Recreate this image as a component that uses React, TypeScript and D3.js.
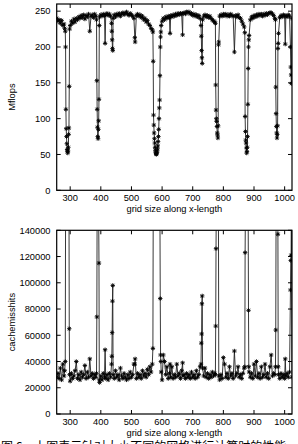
import * as d3 from "d3";

// grid sizes (x-length) and the two measured series, row by row
const gridSize = [
  256, 260, 264, 268, 272, 276, 280, 282,
  284, 285, 286, 287, 288, 289, 290, 291, 292, 293, 294, 295, 296, 297, 298,
  300, 304, 308, 312, 316, 320, 324, 328, 332, 336, 340, 344, 348, 352, 356, 360,
  364, 368, 372, 376, 380, 384, 386,
  387, 388, 389, 390, 391, 392, 393, 394, 395,
  396, 400, 404, 408, 412, 414, 416, 420, 424, 428, 432,
  435, 436, 437, 438, 439, 440,
  444, 448, 452, 456, 460, 464, 468, 472, 476, 480, 484, 488, 492, 496, 500, 504, 508,
  511, 512, 516, 520, 524, 528, 532, 536, 540, 544, 548, 552, 556, 560, 564, 568,
  570, 571, 572, 573, 574, 575, 576, 577, 578, 579, 580, 581, 582, 583, 584, 585, 586, 587, 588, 589, 590, 591, 592, 593, 594, 595, 596, 597,
  600, 604, 608, 612, 616, 620, 624, 626, 628, 632, 636, 640, 644, 648, 652, 656, 660, 664, 667,
  668, 672, 676, 680, 684, 688, 692, 696, 700, 704, 708, 712, 716, 720, 724,
  727, 728, 729, 730, 731, 732,
  736, 740, 744, 748, 752, 756, 760, 764, 768, 772, 774,
  775, 776, 777, 778, 779, 780, 781, 782, 783, 784, 785,
  788, 792, 796, 800, 804, 808, 812, 816, 820, 824, 828, 832, 836, 840, 844, 848, 852, 856, 860, 864, 868,
  870, 871, 872, 873, 874, 875, 876, 877, 878, 879, 880, 881, 882, 883, 884,
  888, 892, 896, 900, 904, 908, 912, 916, 920, 924, 928, 932, 936, 940, 944, 948, 952, 956, 960, 964, 968, 970,
  971, 972, 973, 974, 975, 976, 977, 978, 979, 980,
  984, 988, 992, 996, 1000, 1002, 1004, 1008, 1012, 1016,
  1019, 1020, 1021, 1022, 1024,
];

const mflops = [
  240, 236, 238, 233, 237, 230, 232, 226,
  222, 200, 113, 86, 75, 65, 57, 54, 52, 55, 60, 78, 87, 145, 225,
  230, 236, 233, 239, 235, 240, 238, 242, 240, 244, 241, 245, 239, 244, 242, 246,
  222, 243, 245, 241, 246, 243, 238,
  153, 113, 88, 75, 72, 85, 97, 127, 230,
  242, 245, 243, 246, 244, 205, 245, 247, 244, 246, 243,
  233, 222, 210, 198, 195, 240,
  245, 242, 246, 244, 247, 243, 246, 248, 245, 247, 249, 246, 244, 247, 245, 243, 240,
  213, 207, 244, 246, 243, 245, 241, 243, 238, 240, 235, 237, 232, 230, 226, 224,
  221, 180, 105, 91, 80, 72, 66, 60, 56, 53, 51, 50, 51, 53, 55, 58, 62, 68, 75, 85, 100, 115, 126, 160, 200, 214, 221, 230,
  236, 240, 238, 242, 240, 243, 241, 219, 244, 242, 245, 243, 246, 244, 247, 245, 247, 246, 217,
  247, 248, 246, 249, 248, 249, 246, 247, 244, 246, 243, 245, 242, 244, 240,
  230, 215, 195, 185, 177, 238,
  243, 245, 242, 244, 241, 243, 240, 238, 236, 235, 233,
  147, 112, 100, 96, 89, 80, 77, 73, 90, 203, 207,
  243, 245, 243, 246, 244, 246, 243, 245, 243, 246, 244, 243, 193, 244, 242, 245, 241, 240, 236, 232, 228,
  220, 103, 82, 70, 66, 59, 52, 54, 60, 75, 120, 170, 200, 210, 216,
  238, 242, 240, 244, 242, 245, 243, 246, 244, 246, 243, 246, 244, 247, 245, 247, 248, 248, 246, 244, 240, 238,
  144, 107, 89, 80, 73, 78, 90, 198, 205, 219,
  241, 244, 242, 245, 243, 204, 244, 242, 245, 243,
  200, 172, 161, 149, 240,
];

const cacheMisses = [
  28000, 31000, 27000, 35000, 26000, 38000, 29000, 33000,
  40000, 160000, 170000, 180000, 190000, 200000, 210000, 215000, 215000, 210000, 200000, 185000, 170000, 65000, 30000,
  25000, 31000, 27000, 29000, 33000, 40000, 27000, 30000, 26000, 32000, 28000, 30000, 37000, 27000, 32000, 28000,
  42000, 29000, 31000, 27000, 30000, 28000, 31000,
  74000, 160000, 180000, 180000, 180000, 160000, 150000, 115000, 26000,
  24000, 29000, 26000, 31000, 28000, 49000, 27000, 30000, 26000, 31000, 28000,
  38000, 44000, 62000, 86000, 98000, 30000,
  27000, 33000, 28000, 30000, 26000, 35000, 29000, 27000, 31000, 28000, 26000, 30000, 27000, 32000, 28000, 30000, 38000,
  38000, 42000, 27000, 31000, 28000, 30000, 27000, 33000, 29000, 31000, 28000, 34000, 30000, 36000, 32000, 38000,
  50000, 150000, 170000, 180000, 190000, 200000, 205000, 210000, 215000, 215000, 220000, 220000, 220000, 215000, 215000, 210000, 205000, 200000, 195000, 185000, 175000, 165000, 160000, 150000, 88000, 45000, 40000, 32000,
  26000, 45000, 40000, 30000, 36000, 27000, 31000, 38000, 28000, 36000, 27000, 30000, 28000, 38000, 29000, 31000, 27000, 33000, 39000,
  29000, 30000, 27000, 31000, 28000, 30000, 27000, 32000, 28000, 30000, 27000, 33000, 28000, 30000, 36000,
  38000, 54000, 61000, 84000, 90000, 35000,
  29000, 35000, 28000, 31000, 27000, 30000, 28000, 32000, 29000, 31000, 30000,
  67000, 126000, 160000, 170000, 180000, 185000, 190000, 190000, 180000, 145000, 29000,
  26000, 30000, 27000, 43000, 38000, 28000, 31000, 27000, 36000, 29000, 31000, 27000, 48000, 29000, 31000, 36000, 28000, 30000, 27000, 31000, 35000,
  36000, 123000, 160000, 180000, 190000, 200000, 205000, 210000, 205000, 195000, 170000, 150000, 79000, 36000, 32000,
  28000, 31000, 27000, 38000, 29000, 40000, 28000, 31000, 27000, 36000, 28000, 30000, 38000, 28000, 31000, 27000, 36000, 45000, 29000, 31000, 30000, 36000,
  64000, 150000, 170000, 180000, 190000, 185000, 170000, 137000, 36000, 30000,
  27000, 31000, 28000, 30000, 27000, 42000, 29000, 31000, 28000, 32000,
  94500, 117000, 121000, 150000, 28000,
];

const xTicks = [300, 400, 500, 600, 700, 800, 900, 1000];
const mflopsTicks = [0, 50, 100, 150, 200, 250];
const missTicks = [0, 20000, 40000, 60000, 80000, 100000, 120000, 140000];

const xLabel = "grid size along x-length";
const caption = "图 6　上图表示针对大小不同的网格进行计算时的性能，下图表示缓存未命中次数";

const WIDTH = 298;
const HEIGHT = 444;
const LEFT = 56.7;
const RIGHT = 292;
const FONT = "'Liberation Sans', Arial, Helvetica, sans-serif";
const FONT_SIZE = 9.3;
const TICK = 4;
const STAR = "M-2.2,0H2.2M0,-2.2V2.2M-1.6,-1.6L1.6,1.6M-1.6,1.6L1.6,-1.6";

type PanelProps = {
  id: string;
  top: number;
  bottom: number;
  values: number[];
  yMax: number;
  yTicks: number[];
  yLabel: string;
};

function Panel({ id, top, bottom, values, yMax, yTicks, yLabel }: PanelProps) {
  const x = d3.scaleLinear().domain([256, 1024]).range([LEFT, RIGHT]);
  const y = d3.scaleLinear().domain([0, yMax]).range([bottom, top]);
  const line = d3
    .line<number>()
    .x((_, i) => x(gridSize[i]))
    .y((d) => y(d));

  return (
    <g>
      <defs>
        <clipPath id={`clip-${id}`}>
          <rect x={LEFT} y={top} width={RIGHT - LEFT} height={bottom - top} />
        </clipPath>
      </defs>

      <g clipPath={`url(#clip-${id})`}>
        <path d={line(values) ?? ""} fill="none" stroke="#222" strokeWidth={0.9} />
        {values.map((v, i) => (
          <path
            key={i}
            d={STAR}
            transform={`translate(${x(gridSize[i])},${y(v)})`}
            fill="none"
            stroke="#000"
            strokeWidth={0.9}
          />
        ))}
      </g>

      {xTicks.map((t) => (
        <g key={`x${t}`}>
          <line x1={x(t)} x2={x(t)} y1={bottom} y2={bottom - TICK} stroke="#000" />
          <line x1={x(t)} x2={x(t)} y1={top} y2={top + TICK} stroke="#000" />
          <text
            x={x(t)}
            y={bottom + 10.5}
            textAnchor="middle"
            fontFamily={FONT}
            fontSize={FONT_SIZE}
          >
            {t}
          </text>
        </g>
      ))}

      {yTicks.map((t) => (
        <g key={`y${t}`}>
          <line x1={LEFT} x2={LEFT + TICK} y1={y(t)} y2={y(t)} stroke="#000" />
          <line x1={RIGHT} x2={RIGHT - TICK} y1={y(t)} y2={y(t)} stroke="#000" />
          <text
            x={50.5}
            y={y(t) + 3.3}
            textAnchor="end"
            fontFamily={FONT}
            fontSize={FONT_SIZE}
          >
            {t}
          </text>
        </g>
      ))}

      <rect
        x={LEFT}
        y={top}
        width={RIGHT - LEFT}
        height={bottom - top}
        fill="none"
        stroke="#000"
        strokeWidth={1.2}
      />

      <text
        x={(LEFT + RIGHT) / 2}
        y={bottom + 22}
        textAnchor="middle"
        fontFamily={FONT}
        fontSize={FONT_SIZE}
      >
        {xLabel}
      </text>

      <text
        transform={`translate(14.5,${(top + bottom) / 2}) rotate(-90)`}
        textAnchor="middle"
        fontFamily={FONT}
        fontSize={FONT_SIZE}
      >
        {yLabel}
      </text>
    </g>
  );
}

export default function App() {
  return (
    <svg
      width={WIDTH}
      height={HEIGHT}
      viewBox={`0 0 ${WIDTH} ${HEIGHT}`}
      style={{ position: "absolute", left: 0, top: 0, background: "#fff" }}
    >
      <rect width={WIDTH} height={HEIGHT} fill="#fff" />
      <Panel
        id="mflops"
        top={4}
        bottom={190.3}
        values={mflops}
        yMax={260}
        yTicks={mflopsTicks}
        yLabel="Mflops"
      />
      <Panel
        id="misses"
        top={230.3}
        bottom={414}
        values={cacheMisses}
        yMax={140000}
        yTicks={missTicks}
        yLabel="cachemisshits"
      />
      <text x={1} y={451} fontFamily="'Noto Sans CJK SC', sans-serif" fontSize={12}>
        {caption}
      </text>
    </svg>
  );
}
